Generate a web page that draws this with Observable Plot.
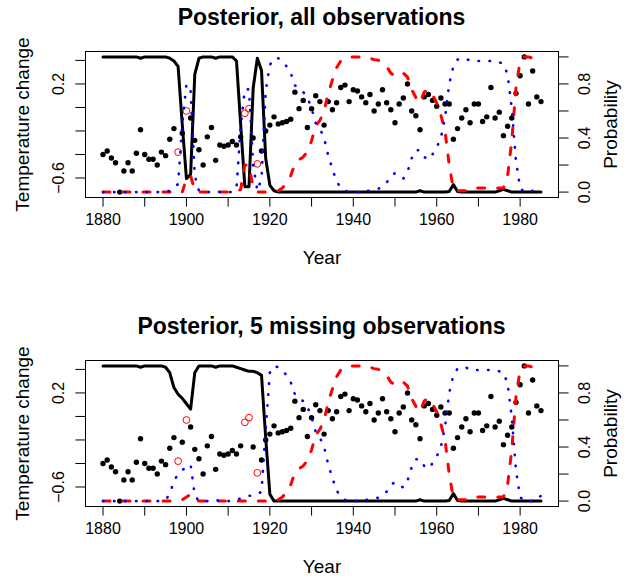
<!DOCTYPE html>
<html><head><meta charset="utf-8">
<script src="https://cdn.jsdelivr.net/npm/d3@7"></script>
<script src="https://cdn.jsdelivr.net/npm/@observablehq/plot@0.6"></script>
<style>
body{margin:0;background:#fff;font-family:"Liberation Sans",Arial,sans-serif;}
.title{margin-left:85px;width:473px;height:34px;line-height:34px;text-align:center;font-weight:bold;font-size:23px;color:#000;white-space:nowrap;}
.plots{position:relative;width:635px;height:275px;}
.plots svg{position:absolute;left:0;top:0;overflow:visible;}
</style></head><body><div id="root"></div>
<script>
// ---------------- data ----------------
const years = [1880,1881,1882,1883,1884,1885,1886,1887,1888,1889,1890,1891,1892,1893,1894,1895,1896,1897,1898,1899,
1900,1901,1902,1903,1904,1905,1906,1907,1908,1909,1910,1911,1912,1913,1914,1915,1916,1917,1918,1919,
1920,1921,1922,1923,1924,1925,1926,1927,1928,1929,1930,1931,1932,1933,1934,1935,1936,1937,1938,1939,
1940,1941,1942,1943,1944,1945,1946,1947,1948,1949,1950,1951,1952,1953,1954,1955,1956,1957,1958,1959,
1960,1961,1962,1963,1964,1965,1966,1967,1968,1969,1970,1971,1972,1973,1974,1975,1976,1977,1978,1979,
1980,1981,1982,1983,1984,1985];

const temperature = [-0.40,-0.37,-0.43,-0.47,-0.72,-0.54,-0.47,-0.54,-0.39,-0.19,-0.40,-0.44,-0.44,-0.49,-0.38,-0.41,-0.27,-0.18,-0.38,-0.22,
-0.03,-0.09,-0.28,-0.36,-0.49,-0.25,-0.17,-0.45,-0.32,-0.33,-0.32,-0.29,-0.32,-0.25,-0.05,-0.01,-0.26,-0.48,-0.37,-0.20,
-0.15,-0.08,-0.14,-0.13,-0.12,-0.10,0.13,-0.01,0.06,-0.17,-0.01,0.10,0.05,-0.15,0.05,-0.02,0.04,0.17,0.19,0.05,
0.15,0.14,0.09,0.04,0.11,-0.03,0.03,0.15,0.04,-0.02,-0.13,0.03,0.08,0.20,-0.03,-0.07,-0.19,0.09,0.11,0.06,
0.01,0.08,0.03,0.03,-0.27,-0.18,-0.09,-0.02,-0.13,0.03,0.03,-0.12,-0.08,0.17,-0.09,-0.04,-0.24,-0.16,-0.09,0.12,
0.27,0.43,0.03,0.31,0.09,0.05];

const missingYears = [1898,1900,1914,1915,1917];

// panel 1: posterior state probabilities, all observations
const blackAll = [1,1,1,1,1,1,1,1,1,0.99,1,1,1,1,1,1,0.99,0.97,0.93,0.5,
0.1,0.13,0.87,0.99,1,1,1,0.99,1,1,1,1,0.97,0.5,0.04,0.04,0.77,0.99,0.9,0.25,
0.05,0.01,0,0,0,0,0,0,0,0,0,0,0,0,0,0,0,0,0,0,
0,0,0,0,0,0,0,0,0,0,0,0,0,0,0,0,0.01,0,0,0,
0,0,0,0.005,0.055,0.005,0,0,0,0,0,0,0,0,0,0.01,0.02,0.01,0,0,
0,0,0,0,0,0];
const redAll = [0,0,0,0,0,0,0,0,0,0,0,0,0,0,0,0,0,0,0.01,0,
0.1,0.12,0.01,0,0,0,0,0,0,0,0,0,0,0.02,0.2,0.2,0.03,0,0,0,
0,0,0.01,0.03,0.07,0.12,0.21,0.24,0.26,0.30,0.38,0.49,0.53,0.60,0.73,0.83,0.92,0.97,0.99,1,
1,1,1,0.99,0.99,0.98,0.975,0.96,0.93,0.88,0.86,0.88,0.88,0.85,0.76,0.70,0.66,0.74,0.76,0.72,
0.66,0.57,0.45,0.2,0.02,0.01,0.01,0.01,0.03,0.03,0.03,0.03,0.03,0.03,0.03,0.03,0.03,0.12,0.38,0.77,
0.97,1,1,0.99,0.98,0.97];
const blueAll = [0,0,0,0,0,0,0,0,0,0.01,0,0,0,0,0,0,0.01,0.03,0.06,0.5,
0.8,0.75,0.12,0.01,0,0,0,0.01,0,0,0,0,0.03,0.48,0.76,0.76,0.2,0.01,0.1,0.75,
0.94,0.99,0.99,0.97,0.93,0.88,0.79,0.76,0.74,0.70,0.62,0.51,0.47,0.40,0.27,0.17,0.08,0.03,0.01,0,
0,0,0,0.01,0.01,0.02,0.025,0.04,0.07,0.12,0.14,0.12,0.10,0.15,0.25,0.31,0.31,0.26,0.24,0.28,
0.33,0.40,0.55,0.8,0.93,0.98,0.99,0.99,0.97,0.97,0.97,0.97,0.97,0.97,0.97,0.96,0.95,0.87,0.62,0.23,
0.03,0,0,0.01,0.01,0.02];

// panel 2: posterior state probabilities, 5 missing observations
const blackMiss = [1,1,1,1,1,1,1,1,1,0.99,1,1,1,1,1,0.99,0.95,0.84,0.79,0.76,
0.72,0.68,0.95,1,1,1,1,0.99,1,1,1,1,0.99,0.98,0.97,0.96,0.96,0.95,0.93,0.47,
0.05,0,0,0,0,0,0,0,0,0,0,0,0,0,0,0,0,0,0,0,
0,0,0,0,0,0,0,0,0,0,0,0,0,0,0,0,0.01,0,0,0,
0,0,0,0.005,0.055,0.005,0,0,0,0,0,0,0,0,0,0.01,0.02,0.01,0,0,
0,0,0,0,0,0];
const redMiss = [0,0,0,0,0,0,0,0,0,0,0,0,0,0,0,0,0,0.01,0.01,0.01,
0.03,0.05,0.01,0,0,0,0,0,0,0,0,0,0,0,0,0,0,0,0,0,
0,0,0.01,0.03,0.07,0.12,0.21,0.24,0.26,0.30,0.38,0.49,0.53,0.60,0.73,0.83,0.92,0.97,0.99,1,
1,1,1,0.99,0.99,0.98,0.975,0.96,0.93,0.88,0.86,0.88,0.88,0.85,0.76,0.70,0.66,0.74,0.76,0.72,
0.66,0.57,0.45,0.2,0.02,0.01,0.01,0.01,0.03,0.03,0.03,0.03,0.03,0.03,0.03,0.03,0.03,0.12,0.38,0.77,
0.97,1,1,0.99,0.98,0.94];
const blueMiss = [0,0,0,0,0,0,0,0,0,0.01,0,0,0,0,0,0.01,0.05,0.15,0.2,0.23,
0.25,0.27,0.04,0,0,0,0,0.01,0,0,0,0,0.01,0.02,0.03,0.04,0.04,0.05,0.07,0.53,
0.95,1,0.99,0.97,0.93,0.88,0.79,0.76,0.74,0.70,0.62,0.51,0.47,0.40,0.27,0.17,0.08,0.03,0.01,0,
0,0,0,0.01,0.01,0.02,0.025,0.04,0.07,0.12,0.14,0.12,0.10,0.15,0.25,0.31,0.31,0.26,0.24,0.28,
0.33,0.40,0.55,0.8,0.93,0.98,0.99,0.99,0.97,0.97,0.97,0.97,0.97,0.97,0.97,0.96,0.95,0.87,0.62,0.23,
0.03,0,0,0,0.01,0.04];

const xTicks = [1880,1890,1900,1910,1920,1930,1940,1950,1960,1970,1980];
const xLabelTicks = [1880,1900,1920,1940,1960,1980];
const tempTicks = [-0.6,-0.4,-0.2,0,0.2,0.4];
const tempLabelTicks = [-0.6,0.2];
const probTicks = [0,0.2,0.4,0.6,0.8,1];
const probLabelTicks = [0,0.4,0.8];

// ---------------- drawing ----------------
function ext(lo, hi) { const p = (hi - lo) * 0.04; return [lo - p, hi + p]; }
const xDomain = ext(d3.min(years), d3.max(years));
const tDomain = ext(d3.min(temperature), d3.max(temperature));
const pDomain = ext(0, 1);
const fmt = d => (d < 0 ? "\u2212" : "") + Math.abs(d).toFixed(1);

const W = 635, H = 275, ML = 85, MR = 77, MT = 17, MB = 112;
const FONT = "'Liberation Sans', Arial, Helvetica, sans-serif";
const base = {width: W, height: H, marginLeft: ML, marginRight: MR, marginTop: MT, marginBottom: MB,
  style: {fontFamily: FONT, fontSize: "16px", color: "black", background: "transparent", overflow: "visible"}};

function panel(title, black, red, blue) {
  const rows = years.map((y, i) => ({year: y, temp: temperature[i], black: black[i], red: red[i], blue: blue[i],
    missing: missingYears.includes(y)}));
  const wrap = document.createElement("div");
  const t = document.createElement("div");
  t.className = "title"; t.textContent = title; wrap.appendChild(t);
  const box = document.createElement("div"); box.className = "plots"; wrap.appendChild(box);

  const tempPlot = Plot.plot({...base,
    x: {domain: xDomain}, y: {domain: tDomain},
    marks: [
      Plot.axisX({ticks: xTicks, tickSize: 9.6, tickPadding: 7, tickFormat: d => xLabelTicks.includes(d) ? String(d) : "", fontSize: 16, label: null}),
      Plot.axisY({ticks: tempTicks, tickSize: 9.6, tickFormat: () => "", label: null}),
      Plot.text(tempLabelTicks, {y: d => d, text: fmt, frameAnchor: "left", textAnchor: "middle", dx: -27, rotate: -90, fontSize: 16}),
      Plot.text(["Temperature change"], {frameAnchor: "left", textAnchor: "middle", dx: -63, rotate: -90, fontSize: 19}),
      Plot.text(["Year"], {frameAnchor: "bottom", textAnchor: "middle", dy: 66, fontSize: 19}),
      Plot.dot(rows.filter(d => !d.missing), {x: "year", y: "temp", r: 2.7, fill: "black", stroke: "none"}),
      Plot.dot(rows.filter(d => d.missing), {x: "year", y: "temp", r: 3.4, fill: "none", stroke: "red", strokeWidth: 1}),
      Plot.frame({stroke: "black", strokeWidth: 1})
    ]});
  const probPlot = Plot.plot({...base,
    x: {domain: xDomain, axis: null}, y: {domain: pDomain, axis: null},
    marks: [
      Plot.axisY({anchor: "right", ticks: probTicks, tickSize: 9.6, tickFormat: () => "", label: null}),
      Plot.text(probLabelTicks, {y: d => d, text: fmt, frameAnchor: "right", textAnchor: "middle", dx: 26, rotate: -90, fontSize: 16}),
      Plot.text(["Probability"], {frameAnchor: "right", textAnchor: "middle", dx: 52, rotate: -90, fontSize: 19}),
      Plot.line(rows, {x: "year", y: "black", stroke: "black", strokeWidth: 3}),
      Plot.line(rows, {x: "year", y: "red", stroke: "#ff0000", strokeWidth: 3, strokeDasharray: "7,13", strokeLinecap: "round"}),
      Plot.line(rows, {x: "year", y: "blue", stroke: "#0000ff", strokeWidth: 2.6, strokeDasharray: "0.5,10.5", strokeLinecap: "round"})
    ]});
  box.appendChild(tempPlot);
  box.appendChild(probPlot);
  return wrap;
}

const root = document.getElementById("root");
root.appendChild(panel("Posterior, all observations", blackAll, redAll, blueAll));
root.appendChild(panel("Posterior, 5 missing observations", blackMiss, redMiss, blueMiss));
</script></body></html>
